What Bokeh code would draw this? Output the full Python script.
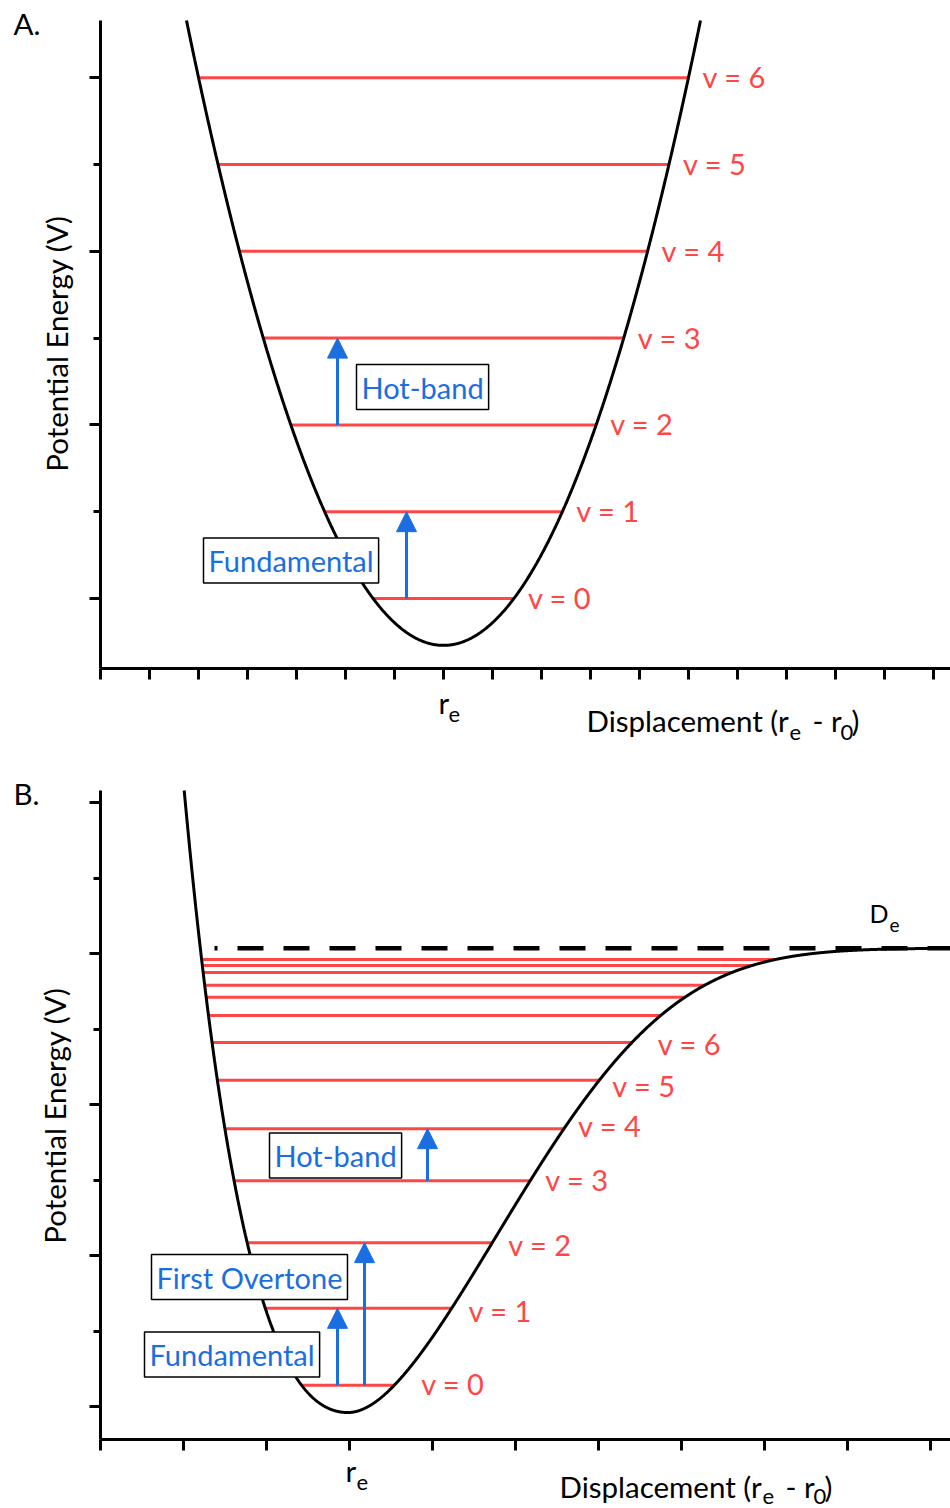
import numpy as np
from bokeh.plotting import figure
from bokeh.layouts import column
from bokeh.models import Range1d, FixedTicker, Label, Arrow, NormalHead, ColumnDataSource
from bokeh.core.properties import value
from bokeh.embed import file_html
from bokeh.resources import INLINE

FONT = "Lato"
RED = "#ff4646"
BLUE = "#1a6ee0"
BLACK = "#000000"

# ---------------- Panel A: harmonic oscillator ----------------
# energies in units of the vibrational spacing; v = 0 sits on the lowest major tick
harm_labels = ["v = 0", "v = 1", "v = 2", "v = 3", "v = 4", "v = 5", "v = 6"]
harm_energy = [0, 1, 2, 3, 4, 5, 6]
harm_re = 7.0        # equilibrium position
harm_floor = -0.54   # bottom of the well
harm_k = 0.2617      # curvature of the parabola
harm_steps = [("Fundamental", 0, 1), ("Hot-band", 2, 3)]
harm_xticks = list(range(0, 18))
harm_yticks = [0, 2, 4, 6]
harm_yminor = [1, 3, 5]

# ---------------- Panel B: anharmonic (Morse-type) oscillator ----------------
morse_energy = [0.28, 1.30, 2.17, 2.99, 3.68, 4.32, 4.82,
                5.18, 5.42, 5.58, 5.75, 5.84, 5.92]
morse_labels = ["v = 0", "v = 1", "v = 2", "v = 3", "v = 4", "v = 5", "v = 6"]
morse_re = 2.98
morse_floor = -0.08
morse_depth = 6.15     # D_e, measured from the bottom of the well
wall_rate = 0.39       # steepness of the repulsive wall
tail_rate = 0.492      # steepness of the attractive side
tail_len = 6.0         # distance over which the attractive side stiffens
morse_steps = [("Fundamental", 0, 1), ("First Overtone", 0, 2), ("Hot-band", 3, 4)]
morse_xticks = list(range(0, 11))
morse_yticks = [0, 2, 4, 6, 8]
morse_yminor = [1, 3, 5, 7]

# ---------------- page geometry (pixels) ----------------
PAGE_W = 950
A_TOP, A_H = 0, 760
B_TOP, B_H = 760, 748
A_UNIT = (49.0, 86.8)     # px per data unit (x, y)
B_UNIT = (83.0, 75.5)
A_ZERO = 598.0            # page y of energy 0
B_ZERO = 1406.0
A_AXES = (20.0, 668.0)    # page y where the axes start / meet
B_AXES = (790.0, 1439.0)
AXIS_X0 = 100.0           # page x of the energy axis

TXT = 29.5
SUB = 22
BASE_SHIFT = 0.42         # alphabetic-baseline correction, in em


def to_a(px, py):
    return (px - AXIS_X0) / A_UNIT[0], (A_ZERO - py) / A_UNIT[1]


def to_b(px, py):
    return (px - AXIS_X0) / B_UNIT[0], (B_ZERO - py) / B_UNIT[1]


def make_panel(top, height, axes, zero, unit, xticks, yticks, yminor):
    x_lo = -AXIS_X0 / unit[0]
    x_hi = (PAGE_W - AXIS_X0) / unit[0]
    y_hi = (zero - top) / unit[1]
    y_lo = (zero - (top + height)) / unit[1]
    ax_top = (zero - axes[0]) / unit[1]
    ax_bot = (zero - axes[1]) / unit[1]
    p = figure(width=PAGE_W, height=height, x_range=Range1d(x_lo, x_hi),
               y_range=Range1d(y_lo, y_hi), output_backend="svg",
               toolbar_location=None, min_border=0, min_border_left=0,
               min_border_right=0, min_border_top=0, min_border_bottom=0)
    p.outline_line_color = None
    p.grid.visible = False
    p.background_fill_color = "white"
    p.border_fill_color = "white"
    xa, ya = p.xaxis[0], p.yaxis[0]
    xa.fixed_location = ax_bot
    ya.fixed_location = 0
    xa.bounds = (0, x_hi)
    ya.bounds = (ax_bot, ax_top)
    for ax in (xa, ya):
        ax.axis_line_width = 3
        ax.axis_line_color = BLACK
        ax.major_tick_line_width = 3
        ax.minor_tick_line_width = 3
        ax.major_tick_line_color = BLACK
        ax.minor_tick_line_color = BLACK
        ax.major_tick_in = 0
        ax.major_tick_out = 11
        ax.minor_tick_in = 0
        ax.minor_tick_out = 7
        ax.major_label_text_color = None
    xa.ticker = FixedTicker(ticks=xticks, minor_ticks=[])
    ya.ticker = FixedTicker(ticks=yticks, minor_ticks=yminor)
    return p, x_hi, ax_bot, ax_top


def put_text(p, conv, text, px, py, size=TXT, color=BLACK, **kw):
    baseline = kw.pop("baseline", "alphabetic")
    if baseline == "alphabetic":
        py = py - BASE_SHIFT * size
    x, y = conv(px, py)
    p.add_layout(Label(x=x, y=y, text=text, text_font=FONT, text_font_size=f"{size}px",
                       text_color=color, text_baseline=baseline,
                       text_align=kw.pop("align", "left"), **kw))


def put_box(p, conv, text, px, py):
    x, y = conv(px, py)
    p.add_layout(Label(x=x, y=y, text=text, text_font=FONT, text_font_size="29px",
                       text_color=BLUE, text_align="left", text_baseline="middle",
                       background_fill_color="white", border_line_color=BLACK,
                       border_line_width=1.5, padding=5))


def put_arrow(p, x, y0, y1):
    head = NormalHead(size=20, fill_color=BLUE, line_color=BLUE, line_width=1)
    p.add_layout(Arrow(end=head, x_start=x, y_start=y0, x_end=x, y_end=y1,
                       line_color=BLUE, line_width=3))


# ======================= Panel A =======================
pa, xa_end, ya_bot, ya_top = make_panel(A_TOP, A_H, A_AXES, A_ZERO, A_UNIT,
                                        harm_xticks, harm_yticks, harm_yminor)

ea = np.array(harm_energy, dtype=float)
half = np.sqrt((ea - harm_floor) / harm_k)
lev_a = ColumnDataSource(dict(x0=harm_re - half, x1=harm_re + half, y=ea, text=harm_labels))
pa.segment(x0="x0", y0="y", x1="x1", y1="y", source=lev_a, line_color=RED, line_width=3)

top_half = np.sqrt((ya_top - harm_floor) / harm_k)
xa = np.linspace(harm_re - top_half, harm_re + top_half, 800)
pa.line(xa, harm_floor + harm_k * (xa - harm_re) ** 2, line_color=BLACK, line_width=3)

pa.text(x="x1", y="y", text="text", source=lev_a, text_font=value(FONT),
        text_font_size="29px", text_color=RED, text_baseline="middle",
        x_offset=14, y_offset=-1)

# transition arrows and their captions (arrow x, box left, box middle in page px)
steps_a_layout = {"Fundamental": (406, 203, 560), "Hot-band": (337, 356, 386.5)}
for name, lo, hi in harm_steps:
    ax_px, bx, by = steps_a_layout[name]
    put_arrow(pa, to_a(ax_px, 0)[0], harm_energy[lo], harm_energy[hi])
    put_box(pa, to_a, name, bx, by)

put_text(pa, to_a, "A.", 13, 35)
put_text(pa, to_a, "Potential Energy (V)", 56, 343, angle=np.pi / 2,
         align="center", baseline="middle")
put_text(pa, to_a, "r", 438, 714)
put_text(pa, to_a, "e", 448, 723, SUB)
put_text(pa, to_a, "Displacement (r", 586, 732)
put_text(pa, to_a, "e", 789, 741, SUB)
put_text(pa, to_a, "- r", 812, 732)
put_text(pa, to_a, "0", 840, 741, SUB)
put_text(pa, to_a, ")", 851, 732)

# ======================= Panel B =======================
pb, xb_end, yb_bot, yb_top = make_panel(B_TOP, B_H, B_AXES, B_ZERO, B_UNIT,
                                        morse_xticks, morse_yticks, morse_yminor)


def morse(x):
    d = x - morse_re
    g = np.where(d < 0, wall_rate * d, tail_rate * d * (1 + (d / tail_len) ** 2))
    return morse_floor + morse_depth * (1 - np.exp(-g)) ** 2


xb = np.linspace(0.5, xb_end, 4000)
vb = morse(xb)
left = xb < morse_re
xl, vl = xb[left][::-1], vb[left][::-1]
xr, vr = xb[~left], vb[~left]
eb = np.array(morse_energy)
lev_b = ColumnDataSource(dict(x0=np.interp(eb, vl, xl), x1=np.interp(eb, vr, xr), y=eb))
pb.segment(x0="x0", y0="y", x1="x1", y1="y", source=lev_b, line_color=RED, line_width=3)

# dissociation limit
limit = morse_floor + morse_depth
pb.line([to_b(214, 0)[0], xb_end], [limit, limit], line_color=BLACK, line_width=4.5,
        line_dash="26 20", line_dash_offset=23)

wall_x = np.interp(yb_top, vl, xl)
xc = np.linspace(wall_x, xb_end, 3000)
pb.line(xc, morse(xc), line_color=BLACK, line_width=3)

# label nudges (px) for the named levels
lab_dx = [27, 17, 16, 15, 14, 13, 26]
lab_dy = [-2, 2, 2, -1, -3, 5, 1]
n_lab = len(morse_labels)
lab_b = ColumnDataSource(dict(x=np.interp(eb[:n_lab], vr, xr), y=eb[:n_lab],
                              text=morse_labels, dx=lab_dx, dy=lab_dy))
pb.text(x="x", y="y", text="text", source=lab_b, text_font=value(FONT),
        text_font_size="29px", text_color=RED, text_baseline="middle",
        x_offset="dx", y_offset="dy")

steps_b_layout = {"Fundamental": (337, 144, 1354),
                  "First Overtone": (364, 151, 1276.5),
                  "Hot-band": (427, 269, 1155)}
for name, lo, hi in morse_steps:
    ax_px, bx, by = steps_b_layout[name]
    put_arrow(pb, to_b(ax_px, 0)[0], morse_energy[lo], morse_energy[hi])
    put_box(pb, to_b, name, bx, by)

put_text(pb, to_b, "B.", 13, 805)
put_text(pb, to_b, "Potential Energy (V)", 54, 1115, angle=np.pi / 2,
         align="center", baseline="middle")
put_text(pb, to_b, "D", 869, 923, 25)
put_text(pb, to_b, "e", 889, 932, 19)
put_text(pb, to_b, "r", 345, 1482)
put_text(pb, to_b, "e", 356, 1491, SUB)
put_text(pb, to_b, "Displacement (r", 559, 1498)
put_text(pb, to_b, "e", 762, 1505, SUB)
put_text(pb, to_b, "- r", 785, 1498)
put_text(pb, to_b, "0", 813, 1505, SUB)
put_text(pb, to_b, ")", 824, 1498)

layout = column(pa, pb, spacing=0)
open("out.html", "w").write(file_html(layout, INLINE))
